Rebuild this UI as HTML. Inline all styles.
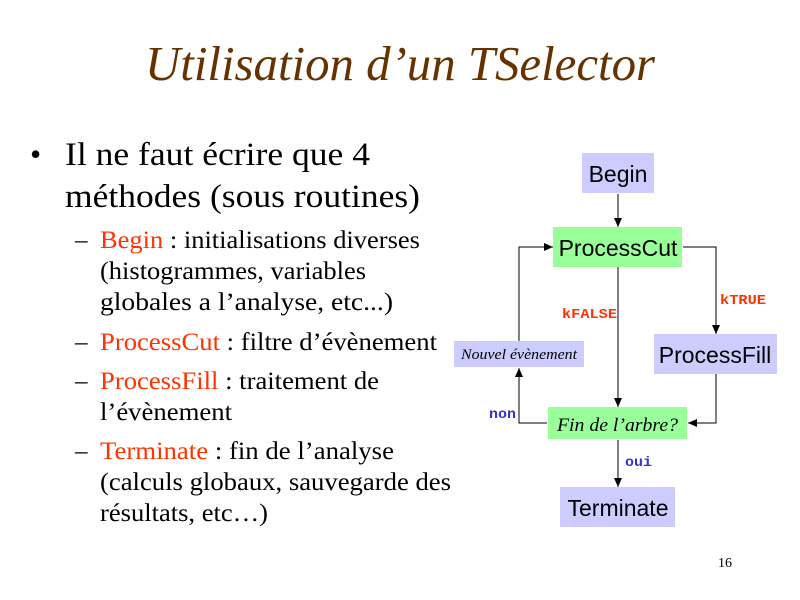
<!DOCTYPE html>
<html><head><meta charset="utf-8"><style>
html,body{margin:0;padding:0;background:#fff;}
svg{display:block;}
</style></head><body>
<svg width="800" height="600" xmlns="http://www.w3.org/2000/svg">
<defs><marker id="a" markerWidth="10" markerHeight="10" refX="9" refY="5" orient="auto" markerUnits="userSpaceOnUse"><path d="M0,1 L9,5 L0,9 z" fill="#000"/></marker></defs>
<text x="145" y="80" textLength="510" lengthAdjust="spacingAndGlyphs" font-family="Liberation Serif" font-style="italic" font-size="49" fill="#663300">Utilisation d’un TSelector</text>
<g font-family="Liberation Serif" fill="#000">
<text x="30" y="165" font-size="32">•</text>
<text x="65" y="165" font-size="33" textLength="305" lengthAdjust="spacingAndGlyphs">Il ne faut écrire que 4</text>
<text x="65" y="207" font-size="33" textLength="355" lengthAdjust="spacingAndGlyphs">méthodes (sous routines)</text>
<g font-size="25">
<text x="75" y="248">–</text><text x="100" y="248" textLength="320" lengthAdjust="spacingAndGlyphs"><tspan fill="#ff3300">Begin</tspan> : initialisations diverses</text>
<text x="100" y="279" textLength="266" lengthAdjust="spacingAndGlyphs">(histogrammes, variables</text>
<text x="100" y="310" textLength="293" lengthAdjust="spacingAndGlyphs">globales a l’analyse, etc...)</text>
<text x="75" y="350">–</text><text x="100" y="350" textLength="337" lengthAdjust="spacingAndGlyphs"><tspan fill="#ff3300">ProcessCut</tspan> : filtre d’évènement</text>
<text x="75" y="389">–</text><text x="100" y="389" textLength="279" lengthAdjust="spacingAndGlyphs"><tspan fill="#ff3300">ProcessFill</tspan> : traitement de</text>
<text x="100" y="420" textLength="132" lengthAdjust="spacingAndGlyphs">l’évènement</text>
<text x="75" y="459">–</text><text x="100" y="459" textLength="294" lengthAdjust="spacingAndGlyphs"><tspan fill="#ff3300">Terminate</tspan> : fin de l’analyse</text>
<text x="100" y="490" textLength="351" lengthAdjust="spacingAndGlyphs">(calculs globaux, sauvegarde des</text>
<text x="100" y="521" textLength="168" lengthAdjust="spacingAndGlyphs">résultats, etc…)</text>
</g>
<text x="718" y="567" font-size="14">16</text>
</g>
<g fill="#ccccff">
<rect x="582" y="153" width="72" height="40"/>
<rect x="454" y="341" width="130" height="26"/>
<rect x="654" y="334" width="123" height="40"/>
<rect x="560" y="487" width="115" height="40"/>
</g>
<g fill="#99ff99">
<rect x="553" y="227" width="129" height="40"/>
<rect x="548" y="407" width="139" height="32"/>
</g>
<g font-family="Liberation Sans" font-size="23" text-anchor="middle" fill="#000">
<text x="618" y="182">Begin</text>
<text x="618" y="256">ProcessCut</text>
<text x="715" y="363">ProcessFill</text>
<text x="618" y="516">Terminate</text>
</g>
<g font-family="Liberation Serif" font-style="italic" fill="#000">
<text x="461" y="359" font-size="15" textLength="116" lengthAdjust="spacingAndGlyphs">Nouvel évènement</text>
<text x="557" y="431" font-size="19" textLength="121" lengthAdjust="spacingAndGlyphs">Fin de l’arbre?</text>
</g>
<g stroke="#000" stroke-width="1" fill="none" marker-end="url(#a)">
<path d="M618,194 V227"/>
<path d="M618,267 V407"/>
<path d="M683,247 H716 V334"/>
<path d="M716,374 V423 H688"/>
<path d="M547,423 H519 V368"/>
<path d="M519,341 V247 H553"/>
<path d="M618,440 V487"/>
</g>
<g font-family="Liberation Mono" font-weight="bold" font-size="14">
<text x="562" y="318" fill="#ff3300" textLength="55" lengthAdjust="spacingAndGlyphs">kFALSE</text>
<text x="720" y="304" fill="#ff3300" textLength="46" lengthAdjust="spacingAndGlyphs">kTRUE</text>
<text x="489" y="418" fill="#3333cc" textLength="27" lengthAdjust="spacingAndGlyphs">non</text>
<text x="625" y="466" fill="#3333cc" textLength="27" lengthAdjust="spacingAndGlyphs">oui</text>
</g>
</svg>
</body></html>
